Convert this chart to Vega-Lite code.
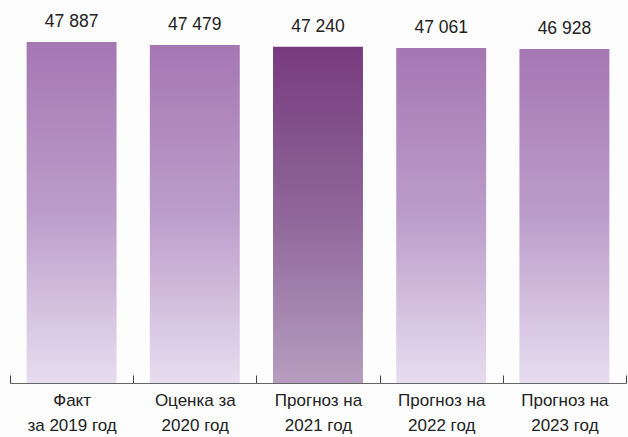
{
  "$schema": "https://vega.github.io/schema/vega-lite/v6.json",
  "width": 616,
  "height": 383,
  "autosize": {"type": "none"},
  "padding": {"left": 10, "top": 0, "right": 2, "bottom": 54},
  "background": "#fdfdfd",
  "config": {
    "view": {"stroke": null},
    "locale": {"number": {"decimal": ",", "thousands": " ", "grouping": [3], "currency": ["", ""]}}
  },
  "data": {
    "values": [
      {"period": "Факт|за 2019 год", "value": 47887},
      {"period": "Оценка за|2020 год", "value": 47479},
      {"period": "Прогноз на|2021 год", "value": 47240},
      {"period": "Прогноз на|2022 год", "value": 47061},
      {"period": "Прогноз на|2023 год", "value": 46928}
    ]
  },
  "encoding": {
    "x": {
      "field": "period",
      "type": "nominal",
      "sort": null,
      "scale": {"paddingInner": 0, "paddingOuter": 0},
      "axis": {
        "title": null,
        "zindex": 1,
        "labelExpr": "split(datum.label, '|')",
        "labelAngle": 0,
        "labelFont": "Liberation Sans",
        "labelFontSize": 17,
        "labelLineHeight": 25,
        "labelColor": "#222222",
        "labelPadding": 17,
        "labelBaseline": "top",
        "tickBand": "extent",
        "tickSize": -8,
        "tickColor": "#444444",
        "domainColor": "#666666",
        "labelLimit": 200
      }
    },
    "y": {
      "field": "value",
      "type": "quantitative",
      "scale": {"domain": [0, 53800], "nice": false, "zero": true},
      "axis": null
    }
  },
  "layer": [
    {
      "mark": {"type": "bar", "width": {"band": 0.73}},
      "encoding": {
        "fill": {
          "condition": {
            "test": "datum.period === 'Прогноз на|2021 год'",
            "value": {
              "gradient": "linear", "x1": 0, "y1": 0, "x2": 0, "y2": 1,
              "stops": [
                {"offset": 0, "color": "#773b7d"},
                {"offset": 0.5, "color": "#8f669a"},
                {"offset": 1, "color": "#b69dbf"}
              ]
            }
          },
          "value": {
            "gradient": "linear", "x1": 0, "y1": 0, "x2": 0, "y2": 1,
            "stops": [
              {"offset": 0, "color": "#a577b3"},
              {"offset": 0.5, "color": "#bc9dca"},
              {"offset": 1, "color": "#e7ddef"}
            ]
          }
        }
      }
    },
    {
      "mark": {
        "type": "text",
        "baseline": "alphabetic",
        "dy": -15,
        "font": "Liberation Sans",
        "fontSize": 17.5,
        "color": "#222222"
      },
      "encoding": {
        "text": {"field": "value", "type": "quantitative", "format": ",d"}
      }
    }
  ]
}
